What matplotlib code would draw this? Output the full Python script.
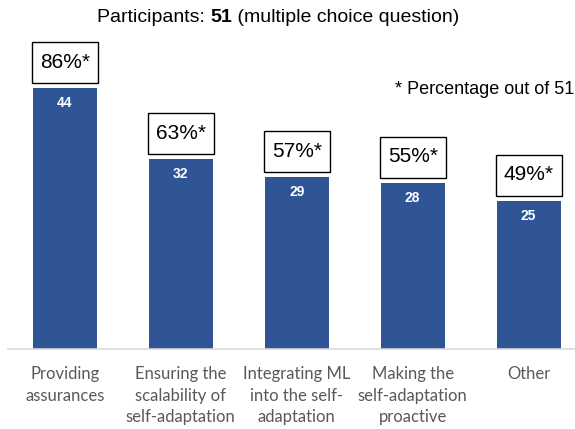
import matplotlib.pyplot as plt
from matplotlib.patches import Rectangle

categories = ['Providing\nassurances',
              'Ensuring the\nscalability of\nself-adaptation',
              'Integrating ML\ninto the self-\nadaptation',
              'Making the\nself-adaptation\nproactive',
              'Other']
counts = [44, 32, 29, 28, 25]
percents = ['86%*', '63%*', '57%*', '55%*', '49%*']

plt.rcParams['font.family'] = ['Liberation Sans', 'DejaVu Sans']

fig = plt.figure(figsize=(5.75, 4.29), dpi=100)
ax = fig.add_axes([8 / 575, 80 / 429, 1 - 8 / 575, 309 / 429])
px_y = 5.93  # pixels per unit on y
px_x = 116.0  # pixels per category on x

x = list(range(len(counts)))
ax.bar(x, counts, width=0.55, color='#2F5597')
ax.set_xlim(-0.49, 4.4)
ax.set_ylim(0, 309 / px_y)

for spine in ['top', 'right', 'left']:
    ax.spines[spine].set_visible(False)
ax.spines['bottom'].set_color('#D9D9D9')
ax.spines['bottom'].set_linewidth(1.2)
ax.set_yticks([])
ax.set_xticks(x)
ax.set_xticklabels(categories, fontsize=12, color='#595959',
                   family=['Lato', 'DejaVu Sans'], linespacing=1.45)
ax.tick_params(axis='x', length=0, pad=12)

bw, bh = 66 / px_x, 41 / px_y
for xi, c, p in zip(x, counts, percents):
    ax.annotate(str(c), (xi, c), xytext=(0, -15), textcoords='offset pixels',
                ha='center', va='center', color='white', fontsize=10,
                fontweight='bold')
    ax.add_patch(Rectangle((xi - bw / 2, c + 5 / px_y), bw, bh,
                           fc='white', ec='black', lw=1.0, clip_on=False))
    ax.annotate(p, (xi, c), xytext=(0, 26), textcoords='offset pixels',
                ha='center', va='center', color='black', fontsize=15)

# title with bold number
fig.canvas.draw()
r = fig.canvas.get_renderer()
parts = [('Participants: ', 'normal'), ('51', 'bold'),
         (' (multiple choice question)', 'normal')]
texts = [fig.text(0, 1 - 17 / 429, s, fontsize=14, fontweight=w, va='center')
         for s, w in parts]
widths = [t.get_window_extent(r).width for t in texts]
left = 278 - sum(widths) / 2
for t, w in zip(texts, widths):
    t.set_x(left / 575)
    left += w
fig.text(1 - 1 / 575, 1 - 90 / 429, '* Percentage out of 51',
         ha='right', va='center', fontsize=13)

fig.savefig('out.png', dpi=100)
